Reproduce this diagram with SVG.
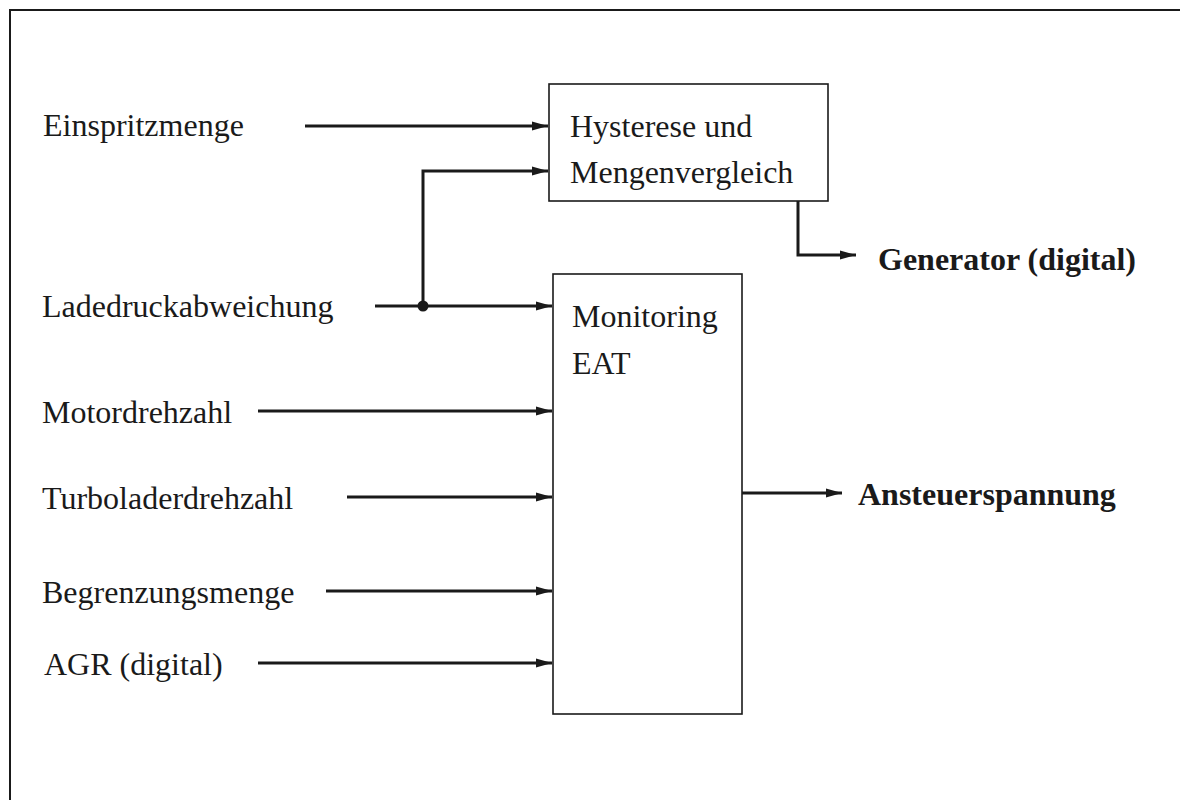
<svg xmlns="http://www.w3.org/2000/svg" width="1180" height="800" viewBox="0 0 1180 800">
  <defs>
    <marker id="arrow" viewBox="0 0 16 10" refX="16" refY="5" markerWidth="16" markerHeight="10" markerUnits="userSpaceOnUse" orient="auto">
      <path d="M0,0.5 L16,5 L0,9.5 Z" fill="#1a1a1a"/>
    </marker>
    <style>
      .frame { fill: none; stroke: #1a1a1a; stroke-width: 2; }
      .box { fill: #ffffff; stroke: #1a1a1a; stroke-width: 1.6; }
      .wire { fill: none; stroke: #1a1a1a; stroke-width: 3; }
      .arr { marker-end: url(#arrow); }
      .lbl { font-family: "Liberation Serif", "Times New Roman", serif; font-size: 32px; fill: #1a1a1a; }
      .out { font-family: "Liberation Serif", "Times New Roman", serif; font-size: 32px; font-weight: bold; fill: #1a1a1a; }
    </style>
  </defs>

  <rect width="1180" height="800" fill="#ffffff"/>
  <!-- outer frame -->
  <rect class="frame" x="10" y="10" width="1180" height="800"/>

  <!-- input labels -->
  <g id="inputs">
    <text class="lbl" x="43" y="136">Einspritzmenge</text>
    <text class="lbl" x="42" y="317">Ladedruckabweichung</text>
    <text class="lbl" x="42" y="423">Motordrehzahl</text>
    <text class="lbl" x="42" y="509">Turboladerdrehzahl</text>
    <text class="lbl" x="42" y="603">Begrenzungsmenge</text>
    <text class="lbl" x="44" y="675">AGR (digital)</text>
  </g>

  <!-- processing blocks -->
  <g id="hysterese">
    <rect class="box" x="549" y="84" width="279" height="117"/>
    <text class="lbl" x="570" y="137">Hysterese und</text>
    <text class="lbl" x="570" y="183">Mengenvergleich</text>
  </g>
  <g id="monitoring">
    <rect class="box" x="553" y="274" width="189" height="440"/>
    <text class="lbl" x="572" y="327">Monitoring</text>
    <text class="lbl" x="572" y="374">EAT</text>
  </g>

  <!-- output labels -->
  <g id="outputs">
    <text class="out" x="878" y="270">Generator (digital)</text>
    <text class="out" x="858" y="505">Ansteuerspannung</text>
  </g>

  <!-- connectors -->
  <g id="connectors">
    <line class="wire arr" x1="305" y1="126" x2="548" y2="126"/>
    <polyline class="wire arr" points="423,306 423,171 548,171"/>
    <line class="wire arr" x1="375" y1="306" x2="552" y2="306"/>
    <circle cx="423" cy="306" r="5.5" fill="#1a1a1a"/>
    <line class="wire arr" x1="258" y1="411" x2="552" y2="411"/>
    <line class="wire arr" x1="347" y1="497" x2="552" y2="497"/>
    <line class="wire arr" x1="326" y1="591" x2="552" y2="591"/>
    <line class="wire arr" x1="258" y1="663" x2="552" y2="663"/>
    <polyline class="wire arr" points="798,201 798,255 856,255"/>
    <line class="wire arr" x1="742" y1="493" x2="842" y2="493"/>
  </g>
</svg>
